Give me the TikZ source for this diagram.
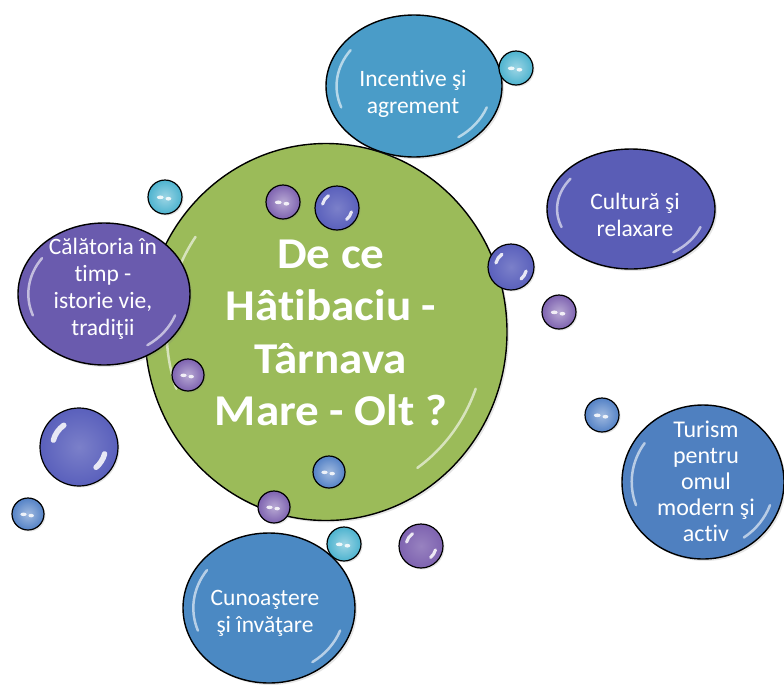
\documentclass[tikz,border=0pt]{standalone}
\usepackage{fontspec}
\setmainfont{Carlito}[Ligatures={NoCommon}]
\newfontfamily\ttlfont[FakeStretch=1.07,Ligatures={NoCommon}]{Carlito}
\usetikzlibrary{positioning,calc,shapes.geometric,shadows}
\definecolor{gMain}{HTML}{9BBB59}
\definecolor{cIncent}{HTML}{4A9CC8}
\definecolor{cCult}{HTML}{5A5DB6}
\definecolor{cCalat}{HTML}{6A5BAE}
\definecolor{cTurism}{HTML}{4F80C0}
\definecolor{cCunoas}{HTML}{4B89C3}
\definecolor{bCyan}{HTML}{4DB3CF}
\definecolor{bPurple}{HTML}{7E63B0}
\definecolor{bIndigo}{HTML}{5A60BC}
\definecolor{bBlue}{HTML}{5482C6}

\begin{document}
\begin{tikzpicture}[x=1pt,y=-1pt,
  bigbub/.style n args={3}{ellipse,draw=black,line width=1.4pt,fill=#3,
    minimum width=#1,minimum height=#2,inner sep=0pt,
    drop shadow={shadow xshift=2pt,shadow yshift=-2pt,opacity=.2},
    path picture={
      \draw[white,opacity=.6,line width=2.5pt,line cap=round]
        ($(path picture bounding box.center)+(-145:{.44*#1} and {.44*#2})$)
        arc[start angle=-145,end angle=-200,x radius={.44*#1},y radius={.44*#2}];
      \draw[white,opacity=.6,line width=2.5pt,line cap=round]
        ($(path picture bounding box.center)+(20:{.44*#1} and {.44*#2})$)
        arc[start angle=20,end angle=55,x radius={.44*#1},y radius={.44*#2}];}},
  eyebub/.style 2 args={circle,draw=black,line width=1.2pt,minimum size={2*#1},inner sep=0pt,
    shading=radial,inner color=#2!55!white,outer color=#2,
    drop shadow={shadow xshift=1.5pt,shadow yshift=-1.5pt,opacity=.2},
    path picture={
      \fill[white,opacity=.85] ($(path picture bounding box.center)+(-.28*#1,.02*#1)$)
        ellipse[x radius={.2*#1},y radius={.11*#1}];
      \fill[white,opacity=.85] ($(path picture bounding box.center)+(.2*#1,.1*#1)$)
        ellipse[x radius={.17*#1},y radius={.11*#1}];}},
  glossbub/.style 2 args={circle,draw=black,line width=1.2pt,minimum size={2*#1},inner sep=0pt,
    shading=radial,inner color=#2!80!white,outer color=#2,
    drop shadow={shadow xshift=1.5pt,shadow yshift=-1.5pt,opacity=.2},
    path picture={
      \draw[white,opacity=.85,line width=.14*#1,line cap=round]
        ($(path picture bounding box.center)+(-125:.68*#1)$) arc[start angle=-125,end angle=-165,radius=.68*#1];
      \draw[white,opacity=.85,line width=.14*#1,line cap=round]
        ($(path picture bounding box.center)+(15:.68*#1)$) arc[start angle=15,end angle=50,radius=.68*#1];}},
  txt/.style={text=white,align=center,font=\fontsize{23.5}{27}\selectfont},
  title/.style={text=white,align=center,font=\ttlfont\bfseries\fontsize{44}{52.5}\selectfont}]
\useasboundingbox[fill=white] (0,0) rectangle (784,686);
% big bubbles
\node[bigbub={362}{377}{gMain}] (main) at (326,332) {};
\node[bigbub={176}{142}{cIncent}] (incent) at (414,86) {};
\node[bigbub={168}{120}{cCult}] (cult) at (631,209) {};
\node[bigbub={172}{142}{cCalat}] (calat) at (104,294) {};
\node[bigbub={162}{154}{cTurism}] (turism) at (703,482) {};
\node[bigbub={172}{150}{cCunoas}] (cunoas) at (269,608) {};
% small bubbles
\foreach \n/\px/\py/\r/\c in {a/516/68/17/bCyan,b/165/197/17/bCyan,c/283/202/17/bPurple,
    f/559/312/17/bPurple,g/188/375/16/bPurple,h/329/472/16/bBlue,i/274/507/16/bPurple,
    j/344/544/17/bCyan,l/602/415/17/bBlue,n/28/514/16/bBlue}
  \node[eyebub={\r}{\c}] (bub\n) at (\px,\py) {};
\foreach \n/\px/\py/\r/\c in {d/337/208/22/bIndigo,e/511/267/23/bIndigo,
    k/421/546/22/bPurple,m/79/447/39/bIndigo}
  \node[glossbub={\r}{\c}] (bub\n) at (\px,\py) {};
% texts
\node[title] (ttl) at (331,333) {De ce\\Hâtibaciu -\\Târnava\\Mare - Olt ?};
\node[txt] (tincent) at (413,94) {Incentive şi\\agrement};
\node[txt] (tcult) at (635,215) {Cultură şi\\relaxare};
\node[txt] (tcalat) at (103,289) {Călătoria în\\timp -\\istorie vie,\\tradiţii};
\node[txt,font=\fontsize{24}{26}\selectfont] (tturism) at (706,481) {Turism\\pentru\\omul\\modern şi\\activ};
\node[txt] (tcunoas) at (265,613) {Cunoaştere\\şi învăţare};
\end{tikzpicture}
\end{document}
